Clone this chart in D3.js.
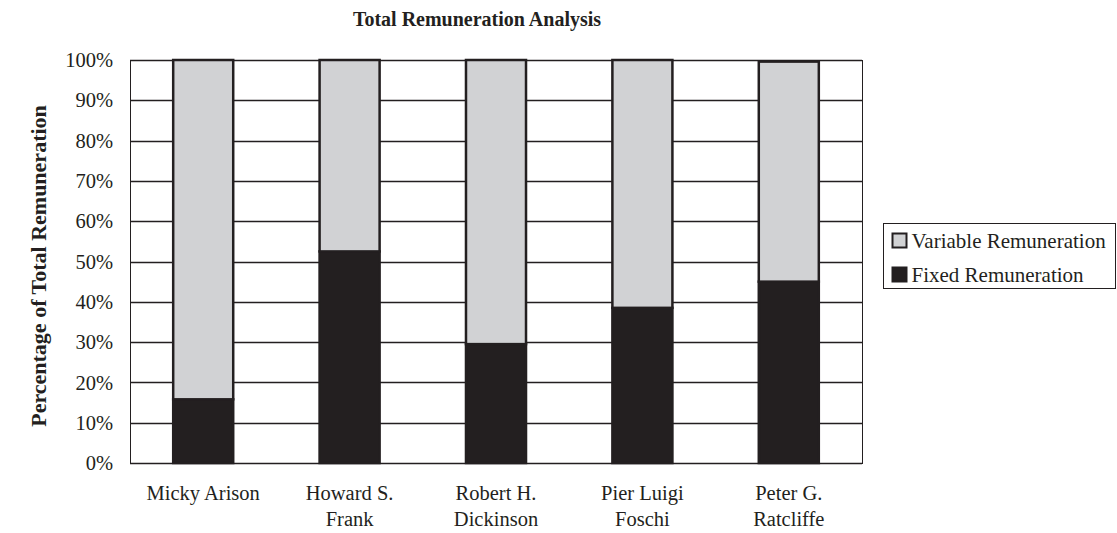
<!DOCTYPE html>
<html>
<head>
<meta charset="utf-8">
<script src="https://cdn.jsdelivr.net/npm/d3@7"></script>
<style>
  body { margin: 0; background: #fff; }
  text { font-family: "Liberation Serif", "Times New Roman", serif; fill: #231f20; }
</style>
</head>
<body>
<svg id="chart" width="1117" height="533"></svg>
<script>
// data
const categories = ["Micky Arison", "Howard S. Frank", "Robert H. Dickinson", "Pier Luigi Foschi", "Peter G. Ratcliffe"];
const categoryLines = [["Micky Arison"], ["Howard S.", "Frank"], ["Robert H.", "Dickinson"], ["Pier Luigi", "Foschi"], ["Peter G.", "Ratcliffe"]];
const fixedPct = [15.8, 52.5, 29.5, 38.5, 45.0];
const variablePct = [84.2, 47.5, 70.5, 61.5, 54.6];
const yTicks = [0, 10, 20, 30, 40, 50, 60, 70, 80, 90, 100];
const seriesNames = ["Variable Remuneration", "Fixed Remuneration"];

const dark = "#231f20";
const grey = "#d1d2d4";

const svg = d3.select("#chart");
const margin = { top: 60, left: 130, right: 255, bottom: 70 };
const width = 1117 - margin.left - margin.right,
  height = 533 - margin.top - margin.bottom;

const g = svg.append("g").attr("transform", "translate(" + margin.left + "," + margin.top + ")");

const x = d3.scaleBand().domain(categories).range([0, width]).paddingInner(0.59).paddingOuter(0.295);
const y = d3.scaleLinear().domain([0, 100]).range([height, 0]);

// gridlines
g.append("g")
  .selectAll("line")
  .data(yTicks)
  .enter()
  .append("line")
  .attr("x1", 0)
  .attr("x2", width)
  .attr("y1", (d) => Math.round(y(d)) + 0.5)
  .attr("y2", (d) => Math.round(y(d)) + 0.5)
  .attr("stroke", dark)
  .attr("stroke-width", 1.3);

// plot frame
g.append("rect")
  .attr("x", 0.5)
  .attr("y", 0.5)
  .attr("width", width)
  .attr("height", height)
  .attr("fill", "none")
  .attr("stroke", dark)
  .attr("stroke-width", 1);

// y axis labels
g.append("g")
  .selectAll("text")
  .data(yTicks)
  .enter()
  .append("text")
  .attr("x", -17)
  .attr("y", (d) => y(d))
  .attr("dy", "0.35em")
  .attr("text-anchor", "end")
  .style("font-size", "20.5px")
  .text((d) => d + "%");

// stacked bars
const rows = categories.map((c, i) => ({ name: c, fixed: fixedPct[i], variable: variablePct[i] }));
const stack = d3.stack().keys(["fixed", "variable"])(rows);
const fills = { fixed: dark, variable: grey };

stack.forEach(function (layer) {
  g.append("g")
    .selectAll("rect")
    .data(layer)
    .enter()
    .append("rect")
    .attr("x", (d) => x(d.data.name))
    .attr("y", (d) => y(d[1]))
    .attr("width", x.bandwidth())
    .attr("height", (d) => y(d[0]) - y(d[1]))
    .attr("fill", fills[layer.key])
    .attr("stroke", dark)
    .attr("stroke-width", 2.5);
});

// x labels
const xl = g.append("g")
  .selectAll("text")
  .data(categories)
  .enter()
  .append("text")
  .attr("text-anchor", "middle")
  .attr("x", (d) => x(d) + x.bandwidth() / 2)
  .attr("y", height + 37)
  .style("font-size", "20.5px");
xl.each(function (d, i) {
  const t = d3.select(this);
  categoryLines[i].forEach(function (line, j) {
    t.append("tspan")
      .attr("x", x(d) + x.bandwidth() / 2)
      .attr("dy", j === 0 ? 0 : 26)
      .text(line);
  });
});

// title
svg.append("text")
  .attr("x", 477)
  .attr("y", 26)
  .attr("text-anchor", "middle")
  .style("font-size", "20px")
  .style("font-weight", "bold")
  .text("Total Remuneration Analysis");

// y title
svg.append("text")
  .attr("transform", "translate(46," + 266 + ") rotate(-90)")
  .attr("text-anchor", "middle")
  .style("font-size", "22px")
  .style("font-weight", "bold")
  .text("Percentage of Total Remuneration");

// legend
const legend = svg.append("g").attr("transform", "translate(883.5,223.5)");
legend.append("rect")
  .attr("width", 232)
  .attr("height", 65)
  .attr("fill", "#fff")
  .attr("stroke", dark)
  .attr("stroke-width", 1);

const legendEntry = legend
  .selectAll("g.legend_entry")
  .data(seriesNames)
  .enter()
  .append("g")
  .attr("class", "legend_entry")
  .attr("transform", (d, i) => "translate(9," + (17 + i * 34) + ")");

legendEntry.append("rect")
  .attr("x", 0)
  .attr("y", -7)
  .attr("width", 14)
  .attr("height", 14)
  .attr("fill", (d, i) => (i === 0 ? grey : dark))
  .attr("stroke", dark)
  .attr("stroke-width", 2);

legendEntry.append("text")
  .attr("x", 19)
  .attr("dy", "0.35em")
  .style("font-size", "21px")
  .text((d) => d);
</script>
</body>
</html>
